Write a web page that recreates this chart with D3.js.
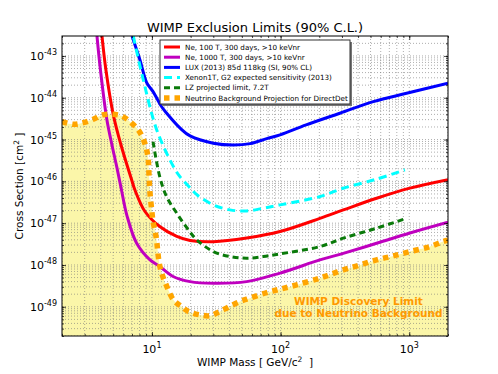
<!DOCTYPE html>
<html>
<head>
<meta charset="utf-8">
<script src="https://cdn.jsdelivr.net/npm/d3@7"></script>
<style>
body{margin:0;background:#fff}
svg{font-family:"DejaVu Sans",sans-serif}
</style>
</head>
<body>
<svg id="chart" width="498" height="374"></svg>
<script>
// [mass GeV, sigma cm^2]
const ne100 = [[4.09,3e-43],[4.39,4.6e-44],[5.01,3.9e-45],[5.75,7.4e-46],[6.96,1.08e-46],[7.38,6.2e-47],[8.83,1.9e-47],[11.5,8.3e-48],[15.6,4.8e-48],[19.8,3.85e-48],[30,3.6e-48],[54.5,4.4e-48],[99,6.3e-48],[202,1.3e-47],[307,2.07e-47],[557,3.95e-47],[1012,6.9e-47],[2000,1.1e-46]];
const ne1000 = [[3.74,3e-43],[3.98,4.6e-44],[4.45,3.2e-45],[4.89,7.4e-46],[5.35,2.1e-46],[5.8,6.2e-47],[6.4,1.5e-47],[7.61,3.3e-48],[9.66,1.32e-48],[11.5,9.2e-49],[14.6,5.3e-49],[19.8,4.0e-49],[30,3.65e-49],[54.5,4.0e-49],[99,6.4e-49],[202,1.32e-48],[307,1.9e-48],[557,3.3e-48],[1012,5.8e-48],[2000,1.05e-47]];
const lux = [[7.0,3e-43],[8.07,8e-44],[9.1,2.3e-44],[10.2,1.4e-44],[11.9,6.1e-45],[13.0,4.3e-45],[16.5,1.9e-45],[19.8,1.22e-45],[30,8.2e-46],[43,7.4e-46],[58,8.0e-46],[78,1.05e-45],[99,1.29e-45],[158,2.24e-45],[289,4.26e-45],[525,8.06e-45],[953,1.28e-44],[2000,2.22e-44]];
const xenon1t = [[7.16,3e-43],[8.57,2.66e-44],[10.9,1.7e-45],[14.7,2.25e-46],[16.5,1.3e-46],[19.8,7e-47],[22.3,4.8e-47],[30,2.74e-47],[40.4,2.08e-47],[54.5,1.96e-47],[73.3,2.28e-47],[99,2.74e-47],[202,4.32e-47],[307,6.85e-47],[557,1.13e-46],[925,1.88e-46]];
const lz = [[10.2,8.9e-46],[11.5,1.3e-46],[13.0,4.3e-47],[15.6,1.73e-47],[19.2,6.9e-48],[22.3,4.0e-48],[30,2.09e-48],[40.4,1.59e-48],[54.5,1.45e-48],[73.3,1.59e-48],[99,1.84e-48],[202,2.75e-48],[307,4.37e-48],[557,7.6e-48],[955,1.31e-47]];
const nuFloor = [[2.0,2.7e-45],[2.45,2.32e-45],[2.93,2.54e-45],[3.5,3.06e-45],[4.14,3.88e-45],[4.95,4.03e-45],[5.82,3.67e-45],[6.75,2.68e-45],[7.83,1.7e-45],[8.57,1.02e-45],[9.1,5.65e-46],[9.37,3.26e-46],[9.45,1.88e-46],[9.53,1.08e-46],[9.66,5.2e-47],[9.96,2.07e-47],[10.2,1.09e-47],[10.6,6.28e-48],[10.9,3.63e-48],[11.1,2.09e-48],[11.4,1.1e-48],[11.9,6.37e-49],[12.9,3.34e-49],[14.7,1.46e-49],[17.0,1.01e-49],[19.2,7.7e-50],[23.6,6.4e-50],[28.2,6.1e-50],[32.8,7.4e-50],[39.2,9.8e-50],[48.3,1.33e-49],[57.8,1.61e-49],[78,2.19e-49],[99,2.64e-49],[133,3.34e-49],[191,4.6e-49],[228,5.5e-49],[307,7.63e-49],[414,1.0e-48],[557,1.32e-48],[750,1.65e-48],[1012,2.09e-48],[1445,2.75e-48],[1835,3.63e-48],[2000,3.9e-48]];

const xTicks = [1,2,3];
const yTicks = [-43,-44,-45,-46,-47,-48,-49];

const series = [
  {data: ne100, label: 'Ne, 100 T, 300 days, >10 keVnr', color: '#ff0000', w: 3, dash: null},
  {data: ne1000, label: 'Ne, 1000 T, 300 days, >10 keVnr', color: '#bf00bf', w: 3, dash: null},
  {data: lux, label: 'LUX (2013) 85d 118kg (SI, 90% CL)', color: '#0000ff', w: 3, dash: null},
  {data: xenon1t, label: 'Xenon1T, G2 expected sensitivity (2013)', color: '#00ffff', w: 3, dash: '8,5'},
  {data: lz, label: 'LZ projected limit, 7.2T', color: '#0a7a0a', w: 3, dash: '6,4'},
  {data: nuFloor, label: 'Neutrino Background Projection for DirectDet', color: '#ffa500', w: 5.5, dash: '5.5,5'}
];

const svg = d3.select('#chart');
const m = {left: 62, top: 36, right: 448, bottom: 336};
const x = d3.scaleLog().domain([2,2000]).range([m.left, m.right]);
const y = d3.scaleLog().domain([2e-50,3e-43]).range([m.bottom, m.top]);

svg.append('clipPath').attr('id','clip')
  .append('rect').attr('x',m.left).attr('y',m.top).attr('width',m.right-m.left).attr('height',m.bottom-m.top);

const plot = svg.append('g').attr('clip-path','url(#clip)');

// yellow region under the neutrino floor
const area = d3.area().x(d=>x(d[0])).y0(m.bottom).y1(d=>y(d[1])).curve(d3.curveMonotoneX);
plot.append('path').datum(nuFloor).attr('d',area).attr('fill','#fbf6a9');

// grid, major + minor
const xGrid = [], yGrid = [];
for (let e=0;e<=3;e++) for (let k=1;k<10;k++){ const v=k*Math.pow(10,e); if (v>=2 && v<=2000) xGrid.push(v); }
for (let e=-50;e<=-43;e++) for (let k=1;k<10;k++){ const v=k*Math.pow(10,e); if (v>=2e-50 && v<=3e-43) yGrid.push(v); }
plot.append('g').selectAll('line').data(xGrid).join('line')
  .attr('x1',d=>x(d)).attr('x2',d=>x(d)).attr('y1',m.top).attr('y2',m.bottom)
  .attr('stroke','#777').attr('stroke-width',0.6).attr('stroke-dasharray','1,2');
plot.append('g').selectAll('line').data(yGrid).join('line')
  .attr('y1',d=>y(d)).attr('y2',d=>y(d)).attr('x1',m.left).attr('x2',m.right)
  .attr('stroke','#777').attr('stroke-width',0.6).attr('stroke-dasharray','1,2');

const line = d3.line().x(d=>x(d[0])).y(d=>y(d[1])).curve(d3.curveCatmullRom.alpha(0.5));
series.forEach(s => {
  plot.append('path').datum(s.data).attr('d',line)
    .attr('fill','none').attr('stroke',s.color).attr('stroke-width',s.w)
    .attr('stroke-dasharray',s.dash);
});

// discovery limit note
const note = svg.append('text').attr('text-anchor','middle')
  .attr('fill','#ff9900').attr('font-weight','bold').attr('font-size',10.5);
note.append('tspan').attr('x',358.5).attr('y',304.5).text('WIMP Discovery Limit');
note.append('tspan').attr('x',358.5).attr('y',317).text('due to Neutrino Background');

// ticks on all four sides, pointing inward
const axes = svg.append('g');
axes.append('g').attr('transform',`translate(0,${m.bottom})`)
  .call(d3.axisBottom(x).tickValues(xGrid).tickSize(-2).tickFormat(''));
axes.append('g').attr('transform',`translate(0,${m.top})`)
  .call(d3.axisTop(x).tickValues(xGrid).tickSize(-2).tickFormat(''));
axes.append('g').attr('transform',`translate(${m.left},0)`)
  .call(d3.axisLeft(y).tickValues(yGrid).tickSize(-2).tickFormat(''));
axes.append('g').attr('transform',`translate(${m.right},0)`)
  .call(d3.axisRight(y).tickValues(yGrid).tickSize(-2).tickFormat(''));
const xMajor = xTicks.map(e=>Math.pow(10,e)), yMajor = yTicks.map(e=>Math.pow(10,e));
axes.append('g').attr('transform',`translate(0,${m.bottom})`)
  .call(d3.axisBottom(x).tickValues(xMajor).tickSize(-4).tickFormat(''));
axes.append('g').attr('transform',`translate(0,${m.top})`)
  .call(d3.axisTop(x).tickValues(xMajor).tickSize(-4).tickFormat(''));
axes.append('g').attr('transform',`translate(${m.left},0)`)
  .call(d3.axisLeft(y).tickValues(yMajor).tickSize(-4).tickFormat(''));
axes.append('g').attr('transform',`translate(${m.right},0)`)
  .call(d3.axisRight(y).tickValues(yMajor).tickSize(-4).tickFormat(''));
axes.selectAll('.domain').remove();
axes.selectAll('line').attr('stroke','#000').attr('stroke-width',0.7);

svg.append('rect').attr('x',m.left).attr('y',m.top).attr('width',m.right-m.left).attr('height',m.bottom-m.top)
  .attr('fill','none').attr('stroke','#000').attr('stroke-width',1);

// tick labels with superscripts
xTicks.forEach(e => {
  const t = svg.append('text').attr('x',x(Math.pow(10,e))).attr('y',353).attr('text-anchor','middle').attr('font-size',11);
  t.append('tspan').text('10');
  t.append('tspan').attr('font-size',8).attr('dy',-5).text(e);
});
yTicks.forEach(e => {
  const t = svg.append('text').attr('x',57).attr('y',y(Math.pow(10,e))+4).attr('text-anchor','end').attr('font-size',11);
  t.append('tspan').text('10');
  t.append('tspan').attr('font-size',8).attr('dy',-5).text(e);
});

svg.append('text').attr('x',255).attr('y',32).attr('text-anchor','middle').attr('font-size',13)
  .text('WIMP Exclusion Limits (90% C.L.)');

const xl = svg.append('text').attr('x',255).attr('y',366).attr('text-anchor','middle').attr('font-size',10.5);
xl.append('tspan').text('WIMP Mass [ GeV/c');
xl.append('tspan').attr('font-size',7.5).attr('dy',-4).text('2');
xl.append('tspan').attr('dy',4).text('\u00a0 ]');

const yl = svg.append('text').attr('transform','translate(23,186) rotate(-90)').attr('text-anchor','middle').attr('font-size',10.5);
yl.append('tspan').text('Cross Section [cm');
yl.append('tspan').attr('font-size',7.5).attr('dy',-4).text('2');
yl.append('tspan').attr('dy',4).text(' ]');

// legend
const lg = svg.append('g');
lg.append('rect').attr('x',162).attr('y',42).attr('width',190).attr('height',64).attr('fill','#777');
lg.append('rect').attr('x',160).attr('y',40).attr('width',190).attr('height',64)
  .attr('fill','#fff').attr('stroke','#333').attr('stroke-width',1);
series.forEach((s,i) => {
  const yy = 47 + i*10.2;
  lg.append('line').attr('x1',164).attr('x2',180).attr('y1',yy).attr('y2',yy)
    .attr('stroke',s.color).attr('stroke-width',s.w).attr('stroke-dasharray',s.dash);
  lg.append('text').attr('x',185).attr('y',yy+2.6).attr('font-size',7.2).text(s.label);
});
</script>
</body>
</html>
